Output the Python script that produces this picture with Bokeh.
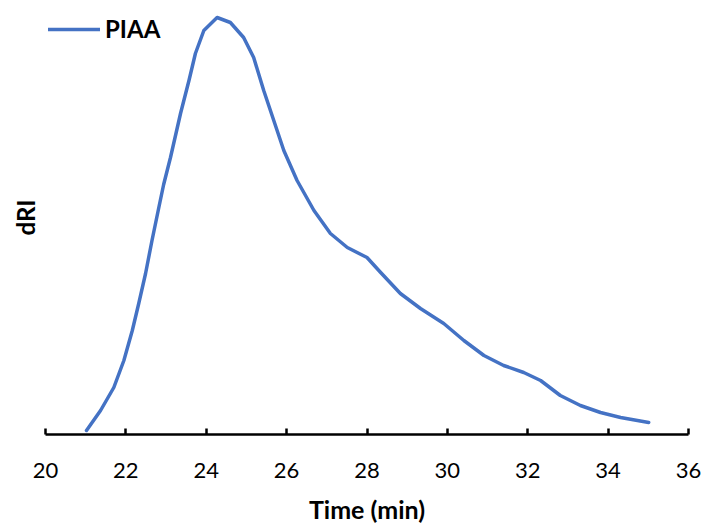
from bokeh.plotting import figure
from bokeh.models import Range1d, FixedTicker, Legend, LegendItem
from bokeh.embed import file_html
from bokeh.resources import INLINE

time_min = [21.02, 21.37, 21.70, 21.95, 22.16, 22.32, 22.49, 22.65, 22.82, 22.94,
            23.11, 23.36, 23.57, 23.73, 23.94, 24.27, 24.60, 24.93, 25.18, 25.43,
            25.68, 25.93, 26.26, 26.68, 27.09, 27.51, 28.00, 28.34, 28.83, 29.33,
            29.91, 30.41, 30.91, 31.40, 31.90, 32.32, 32.81, 33.31, 33.81, 34.31,
            35.01]
dri = [4, 24, 47, 74, 104, 131, 161, 194, 227, 250,
       277, 321, 354, 381, 404, 417, 412, 397, 377, 344,
       314, 284, 254, 224, 201, 187, 177, 162, 141, 126,
       111, 94, 79, 69, 62, 54, 39, 29, 22, 17,
       12]
x_ticks = [20, 22, 24, 26, 28, 30, 32, 34, 36]

FONT = "Lato"

p = figure(width=707, height=527, output_backend="svg", toolbar_location=None,
           x_range=Range1d(20, 36), y_range=Range1d(0, 434),
           min_border_left=45, min_border_right=19, min_border_top=0, min_border_bottom=93)
p.outline_line_color = None
p.grid.visible = False
p.background_fill_color = "white"
p.border_fill_color = "white"

r = p.line(time_min, dri, line_color="#4472C4", line_width=3.5, line_join="round", line_cap="round")

xa = p.xaxis[0]
xa.ticker = FixedTicker(ticks=x_ticks)
xa.minor_tick_line_color = None
xa.major_tick_in = 6
xa.major_tick_out = 0
xa.major_tick_line_width = 2.5
xa.axis_line_width = 2.5
xa.axis_line_color = "black"
xa.major_tick_line_color = "black"
xa.major_label_text_font = FONT
xa.major_label_text_font_size = "22px"
xa.major_label_text_color = "black"
xa.major_label_standoff = 28
xa.axis_label = "Time (min)"
xa.axis_label_text_font = FONT
xa.axis_label_text_font_size = "25px"
xa.axis_label_text_font_style = "bold"
xa.axis_label_text_color = "black"
xa.axis_label_standoff = 13

ya = p.yaxis[0]
ya.ticker = FixedTicker(ticks=[])
ya.axis_line_color = None
ya.major_tick_line_color = None
ya.minor_tick_line_color = None
ya.major_label_text_font_size = "0px"
ya.major_label_standoff = 0
ya.axis_label = "dRI"
ya.axis_label_text_font = FONT
ya.axis_label_text_font_size = "24px"
ya.axis_label_text_font_style = "bold"
ya.axis_label_text_color = "black"
ya.axis_label_standoff = 6

legend = Legend(items=[LegendItem(label="PIAA", renderers=[r])],
                location=(3, 391), padding=0, margin=0, spacing=0,
                glyph_width=52, glyph_height=24, label_standoff=5,
                label_text_font=FONT, label_text_font_size="24px",
                label_text_font_style="bold", label_text_color="black",
                background_fill_alpha=0, border_line_color=None)
p.add_layout(legend)

open("out.html", "w").write(file_html(p, INLINE))
